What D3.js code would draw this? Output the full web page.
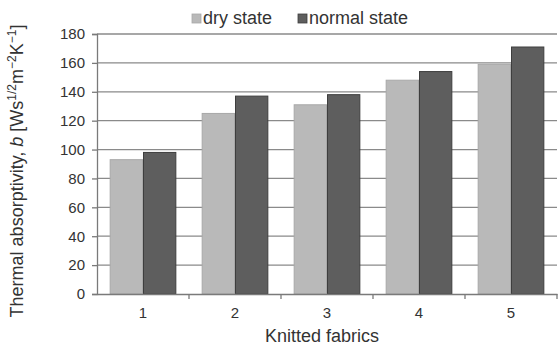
<!DOCTYPE html>
<html>
<head>
<meta charset="utf-8">
<script src="https://cdn.jsdelivr.net/npm/d3@7"></script>
<style>
  html, body { margin: 0; padding: 0; background: #fff; }
  svg { display: block; font-family: "Liberation Sans", Arial, sans-serif; }
</style>
</head>
<body>
<svg id="chart" width="558" height="347"></svg>
<script>
// Thermal absorptivity of five knitted fabrics, dry vs normal state
const fabrics = ["1", "2", "3", "4", "5"];
const seriesNames = ["dry state", "normal state"];
const dryState = [93, 125, 131, 148, 159];
const normalState = [98, 137, 138, 154, 171];
const yTicks = [0, 20, 40, 60, 80, 100, 120, 140, 160, 180];

const colors = { "dry state": "#b9b9b9", "normal state": "#5e5e5e" };
const strokes = { "dry state": "#a8a8a8", "normal state": "#3e3e3e" };
const textColor = "#333";
const axisColor = "#7a7a7a";

const svg = d3.select("#chart");
const margin = { left: 97, right: 1, top: 34, bottom: 53 };
const W = 558, H = 347;

const x = d3.scaleBand().domain(fabrics).range([margin.left, W - margin.right]).paddingInner(0).paddingOuter(0);
const xs = d3.scaleBand().domain(seriesNames).range([0, x.bandwidth()]).paddingOuter(0.38).paddingInner(0);
const y = d3.scaleLinear().domain([0, 180]).range([H - margin.bottom, margin.top]);

const rows = fabrics.map((f, i) => ({ fabric: f, values: [
  { name: "dry state", v: dryState[i] },
  { name: "normal state", v: normalState[i] }
]}));

// horizontal gridlines
svg.append("g").selectAll("line").data(yTicks.filter(t => t > 0)).join("line")
  .attr("x1", margin.left).attr("x2", W - margin.right)
  .attr("y1", d => y(d)).attr("y2", d => y(d))
  .attr("stroke", "#8a8a8a").attr("stroke-width", 1.3);

// grouped bars
svg.append("g").selectAll("g").data(rows).join("g")
  .attr("transform", d => `translate(${x(d.fabric)},0)`)
  .selectAll("rect").data(d => d.values).join("rect")
  .attr("x", d => xs(d.name) + 0.5)
  .attr("width", xs.bandwidth() - 1)
  .attr("y", d => y(d.v))
  .attr("height", d => y(0) - y(d.v))
  .attr("fill", d => colors[d.name])
  .attr("stroke", d => strokes[d.name])
  .attr("stroke-width", 1);

// y axis
const yAxis = svg.append("g").attr("transform", `translate(${margin.left},0)`)
  .call(d3.axisLeft(y).tickValues(yTicks).tickSize(5).tickPadding(7));
yAxis.select(".domain").attr("stroke", axisColor).attr("stroke-width", 1.3);
yAxis.selectAll(".tick line").attr("stroke", axisColor).attr("stroke-width", 1.3);
yAxis.selectAll(".tick text").attr("font-size", 15).attr("fill", textColor)
  .attr("font-family", "Liberation Sans, Arial, sans-serif");

// x axis, tick marks at the category boundaries
const xAxis = svg.append("g").attr("transform", `translate(0,${y(0)})`)
  .call(d3.axisBottom(x).tickSize(0).tickPadding(13));
xAxis.select(".domain").attr("stroke", axisColor).attr("stroke-width", 1.3);
xAxis.selectAll(".tick text").attr("font-size", 15).attr("fill", textColor)
  .attr("font-family", "Liberation Sans, Arial, sans-serif");
xAxis.append("g").selectAll("line").data(fabrics).join("line")
  .attr("x1", d => x(d) + x.bandwidth()).attr("x2", d => x(d) + x.bandwidth())
  .attr("y1", 0).attr("y2", 5)
  .attr("stroke", axisColor).attr("stroke-width", 1.3);

// x axis title
svg.append("text").attr("x", 322).attr("y", 342).attr("text-anchor", "middle")
  .attr("font-size", 18).attr("fill", textColor).text("Knitted fabrics");

// y axis title with superscript units
const yt = svg.append("text")
  .attr("transform", "translate(23,171) rotate(-90)")
  .attr("text-anchor", "middle").attr("font-size", 18).attr("fill", textColor);
yt.append("tspan").text("Thermal absorptivity, ");
yt.append("tspan").attr("font-style", "italic").text("b");
yt.append("tspan").text(" [Ws");
yt.append("tspan").attr("font-size", 12).attr("dy", -7).text("1/2");
yt.append("tspan").attr("dy", 7).text("m");
yt.append("tspan").attr("font-size", 12).attr("dy", -7).text("\u22122");
yt.append("tspan").attr("dy", 7).text("K");
yt.append("tspan").attr("font-size", 12).attr("dy", -7).text("\u22121");
yt.append("tspan").attr("dy", 7).text("]");

// legend
const legendX = [192, 298];
const legend = svg.append("g").selectAll("g").data(seriesNames).join("g")
  .attr("transform", (d, i) => `translate(${legendX[i]},14)`);
legend.append("rect").attr("width", 9).attr("height", 9)
  .attr("fill", d => colors[d]).attr("stroke", d => strokes[d]).attr("stroke-width", 0.8);
legend.append("text").attr("x", 11).attr("y", 10).attr("font-size", 18).attr("fill", textColor)
  .text(d => d);
</script>
</body>
</html>
